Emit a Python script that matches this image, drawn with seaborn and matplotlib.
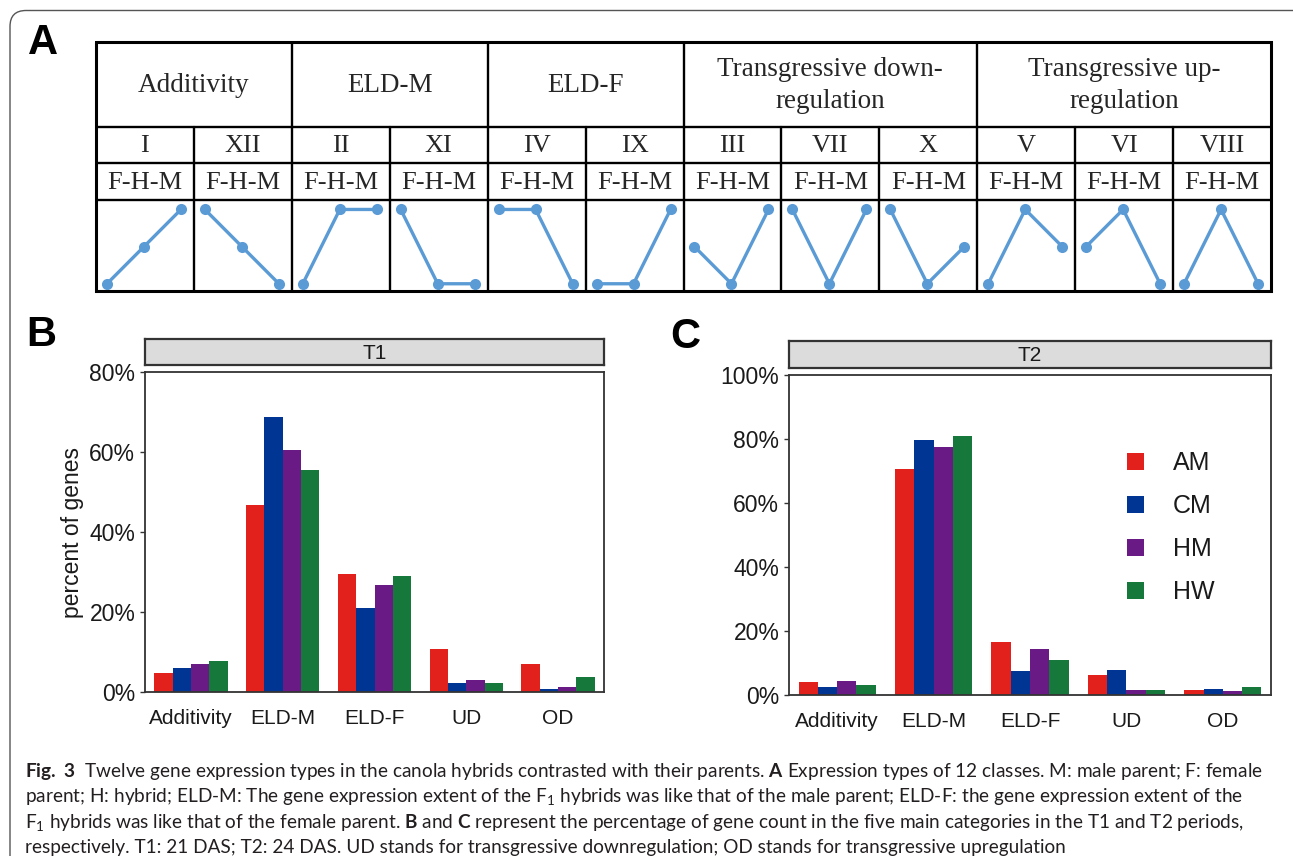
import numpy as np
import pandas as pd
import matplotlib
matplotlib.use("Agg")
import matplotlib.pyplot as plt
import seaborn as sns
from matplotlib.ticker import PercentFormatter, FixedLocator
from matplotlib.patches import FancyBboxPatch
from matplotlib.transforms import IdentityTransform

# ---------------- data ----------------
categories = ["Additivity", "ELD-M", "ELD-F", "UD", "OD"]
genotypes = ["AM", "CM", "HM", "HW"]
colors = ["#e2201c", "#013594", "#6a1a84", "#16793b"]

t1_AM = [4.7, 46.7, 29.5, 10.7, 6.9]
t1_CM = [5.9, 68.8, 20.9, 2.3, 0.7]
t1_HM = [6.9, 60.6, 26.8, 3.0, 1.3]
t1_HW = [7.7, 55.6, 29.1, 2.2, 3.8]

t2_AM = [4.0, 70.6, 16.7, 6.3, 1.5]
t2_CM = [2.5, 79.7, 7.4, 7.7, 1.9]
t2_HM = [4.4, 77.6, 14.3, 1.6, 1.3]
t2_HW = [3.2, 80.9, 10.8, 1.6, 2.6]

t1_ticks = [0, 20, 40, 60, 80]
t2_ticks = [0, 20, 40, 60, 80, 100]

group_names = ["Additivity", "ELD-M", "ELD-F",
               "Transgressive down-\nregulation", "Transgressive up-\nregulation"]
group_spans = [2, 2, 2, 3, 3]
class_labels = ["I", "XII", "II", "XI", "IV", "IX", "III", "VII", "X", "V", "VI", "VIII"]
pattern_label = "F-H-M"
pattern_F = [0, 2, 0, 2, 2, 0, 1, 2, 2, 0, 1, 0]
pattern_H = [1, 1, 2, 0, 2, 0, 0, 0, 0, 2, 2, 2]
pattern_M = [2, 0, 2, 0, 0, 2, 2, 2, 1, 1, 0, 0]

caption_lines = [
    r"$\mathbf{Fig.}$ $\mathbf{3}$  Twelve gene expression types in the canola hybrids contrasted with their parents. $\mathbf{A}$ Expression types of 12 classes. M: male parent; F: female",
    r"parent; H: hybrid; ELD-M: The gene expression extent of the F$_\mathregular{1}$ hybrids was like that of the male parent; ELD-F: the gene expression extent of the",
    r"F$_\mathregular{1}$ hybrids was like that of the female parent. $\mathbf{B}$ and $\mathbf{C}$ represent the percentage of gene count in the five main categories in the T1 and T2 periods,",
    r"respectively. T1: 21 DAS; T2: 24 DAS. UD stands for transgressive downregulation; OD stands for transgressive upregulation",
]

# ---------------- style ----------------
sns.set_style("white")
plt.rcParams["font.family"] = ["Liberation Sans", "DejaVu Sans"]
plt.rcParams["mathtext.fontset"] = "custom"
plt.rcParams["mathtext.rm"] = "Lato"
plt.rcParams["mathtext.bf"] = "Lato:bold"

W, H = 1293, 856
fig = plt.figure(figsize=(W / 100, H / 100), dpi=100)
fig.patch.set_facecolor("white")


def rect(x0, y0, x1, y1):
    return [x0 / W, 1 - y1 / H, (x1 - x0) / W, (y1 - y0) / H]


# outer rounded frame
frame = FancyBboxPatch((10, -30), 1320, 856 - 10.5 + 30,
                       boxstyle="round,pad=0,rounding_size=16",
                       transform=IdentityTransform(), fill=False,
                       edgecolor="#555555", linewidth=1.0)
fig.add_artist(frame)

# ---------------- panel A: table ----------------
tx0, tx1 = 96, 1271
row_y = [42, 126.6, 163.5, 200.4, 291]
ax_t = fig.add_axes(rect(tx0, row_y[0], tx1, row_y[-1]))
ax_t.set_xlim(0, 12)
ax_t.set_ylim(row_y[-1], row_y[0])
ax_t.axis("off")
lw_in, lw_out = 1.7, 2.2
serif = ["Liberation Serif", "DejaVu Serif"]
for y in row_y[1:-1]:
    ax_t.plot([0, 12], [y, y], color="black", lw=lw_in, solid_capstyle="butt")
bounds = np.cumsum([0] + group_spans)
for k in range(13):
    if k in (0, 12):
        continue
    if k in bounds:
        ax_t.plot([k, k], [row_y[0], row_y[-1]], color="black", lw=lw_in)
    else:
        ax_t.plot([k, k], [row_y[1], row_y[-1]], color="black", lw=lw_in)
ax_t.plot([0, 12, 12, 0, 0], [row_y[0], row_y[0], row_y[-1], row_y[-1], row_y[0]],
          color="black", lw=lw_out, clip_on=False, solid_joinstyle="miter")
for gi, name in enumerate(group_names):
    cx = (bounds[gi] + bounds[gi + 1]) / 2
    ax_t.text(cx, (row_y[0] + row_y[1]) / 2 + 1, name, ha="center", va="center",
              fontsize=19.5, family=serif, linespacing=1.38)
for k, lab in enumerate(class_labels):
    ax_t.text(k + 0.5, (row_y[1] + row_y[2]) / 2 + 1, lab, ha="center", va="center",
              fontsize=19, family=serif)
    ax_t.text(k + 0.5, (row_y[2] + row_y[3]) / 2 + 1, pattern_label, ha="center",
              va="center", fontsize=19, family=serif)

cw = (tx1 - tx0) / 12
for k in range(12):
    axc = fig.add_axes(rect(tx0 + k * cw, row_y[3], tx0 + (k + 1) * cw, row_y[4]))
    axc.set_xlim(-0.296, 2.349)
    axc.set_ylim(-0.195, 2.244)
    axc.axis("off")
    sns.lineplot(x=[0, 1, 2], y=[pattern_F[k], pattern_H[k], pattern_M[k]], ax=axc,
                 color="#5b9bd5", lw=2.4, marker="o", markersize=8,
                 markeredgewidth=0, clip_on=False)

# ---------------- panels B, C: bars ----------------
def long_df(vals):
    rows = []
    for g, v in zip(genotypes, vals):
        for c, x in zip(categories, v):
            rows.append({"category": c, "genotype": g, "value": x})
    return pd.DataFrame(rows)


df1 = long_df([t1_AM, t1_CM, t1_HM, t1_HW])
df2 = long_df([t2_AM, t2_CM, t2_HM, t2_HW])
pal = dict(zip(genotypes, colors))

spine_c = "#333333"


def style_axes(ax, ticks):
    ax.set_xlim(-0.5, 4.5)
    ax.set_ylim(0, ticks[-1])
    ax.yaxis.set_major_locator(FixedLocator(ticks))
    ax.yaxis.set_major_formatter(PercentFormatter(decimals=0))
    for s in ax.spines.values():
        s.set_visible(True)
        s.set_color(spine_c)
        s.set_linewidth(1.3)
    ax.tick_params(axis="y", length=3.5, width=1.0, color=spine_c, pad=3.5,
                   labelsize=16.5, labelcolor="#1a1a1a", left=True)
    ax.tick_params(axis="x", length=0, pad=12, labelsize=15, labelcolor="#1a1a1a")
    ax.set_xlabel("")
    ax.set_facecolor("white")


def strip(x0, y0, x1, y1, label):
    axs = fig.add_axes(rect(x0, y0, x1, y1))
    axs.set_facecolor("#dcdcdc")
    axs.set_xticks([])
    axs.set_yticks([])
    for s in axs.spines.values():
        s.set_color(spine_c)
        s.set_linewidth(1.6)
    axs.text(0.5, 0.45, label, ha="center", va="center", fontsize=15,
             transform=axs.transAxes, color="#1a1a1a")


axB = fig.add_axes(rect(145, 372, 604, 692))
sns.barplot(data=df1, x="category", y="value", hue="genotype", order=categories,
            hue_order=genotypes, palette=pal, width=0.8, gap=0, saturation=1,
            linewidth=0, ax=axB, legend=False)
style_axes(axB, t1_ticks)
axB.set_ylabel("percent of genes", fontsize=16.5, color="#1a1a1a", labelpad=4)
strip(145, 339.5, 604, 365, "T1")

axC = fig.add_axes(rect(789, 375, 1271, 695))
sns.barplot(data=df2, x="category", y="value", hue="genotype", order=categories,
            hue_order=genotypes, palette=pal, width=0.8, gap=0, saturation=1,
            linewidth=0, ax=axC, legend=True)
style_axes(axC, t2_ticks)
axC.set_ylabel("")
strip(789, 341, 1271, 368, "T2")
leg = axC.legend(loc="upper left", bbox_to_anchor=(0.701, 0.762), frameon=False,
                 fontsize=18, handlelength=0.68, handleheight=0.72,
                 handletextpad=1.15, labelspacing=0.76, borderpad=0,
                 borderaxespad=0)
for t in leg.get_texts():
    t.set_color("#1a1a1a")

# panel letters
for lab, (x, y) in zip(["A", "B", "C"], [(28, 43), (26, 335), (670, 337)]):
    fig.text(x / W, 1 - y / H, lab, fontsize=30, fontweight="bold", va="center",
             ha="left", color="black")

# ---------------- caption ----------------
cap_y = [771, 797, 823, 848]
cap_texts = []
for s, y in zip(caption_lines, cap_y):
    cap_texts.append(fig.text(25 / W, 1 - y / H, s, fontsize=13, va="center",
                              ha="left", family=["Lato", "DejaVu Sans"],
                              color="#231f20"))
fig.canvas.draw()
r = fig.canvas.get_renderer()
w0 = cap_texts[0].get_window_extent(r).width
fs = 13 * (1258 - 25) / w0
for t in cap_texts:
    t.set_fontsize(fs)

fig.savefig("out.png", dpi=100, facecolor="white")
